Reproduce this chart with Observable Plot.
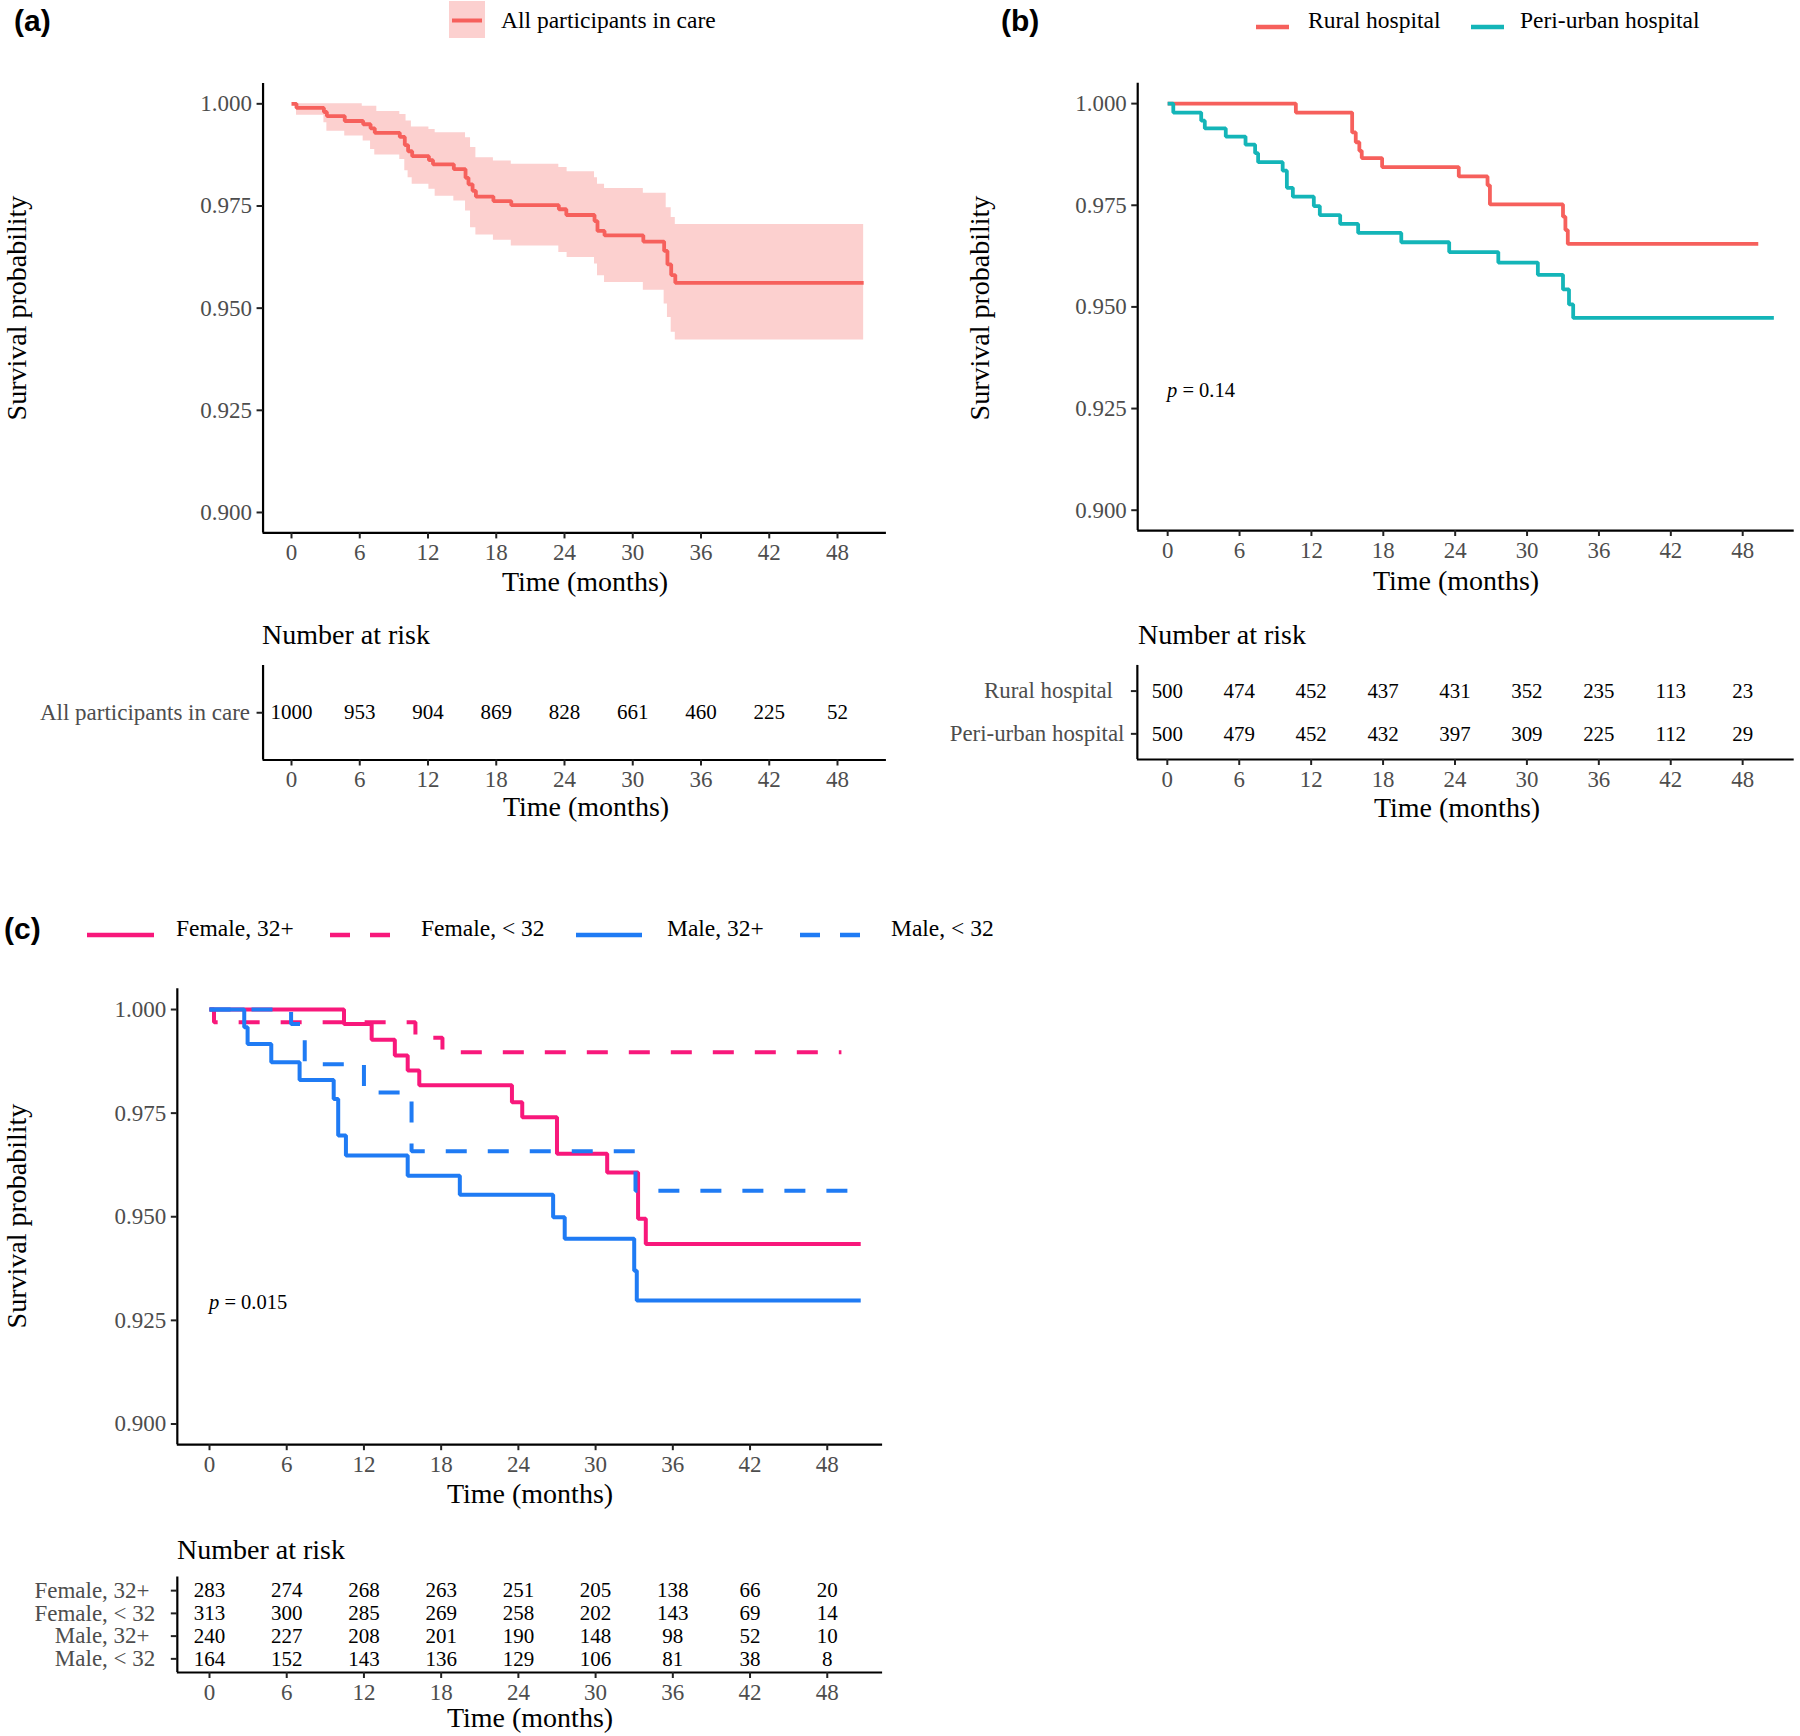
<!DOCTYPE html>
<html><head><meta charset="utf-8">
<script src="https://cdn.jsdelivr.net/npm/d3@7"></script>
<script src="https://cdn.jsdelivr.net/npm/@observablehq/plot@0.6"></script>
<style>
html,body{margin:0;padding:0;background:#fff;}
#page{position:relative;width:1800px;height:1736px;overflow:hidden;background:#fff;font-family:"Liberation Serif","Times New Roman",serif;color:#000;}
.abs{position:absolute;white-space:nowrap;line-height:1;}
.holder{position:absolute;}
.holder svg{overflow:visible;}
</style></head><body><div id="page"></div>
<script>
// ---------------- data ----------------
const monthTicks = [0, 6, 12, 18, 24, 30, 36, 42, 48];
const survTicks = [0.900, 0.925, 0.950, 0.975, 1.000];
const xDomain = [-2.5, 52.3];
const yDomain = [0.895, 1.005];

// (a) all participants
const allTime = [0, 0.44, 2.85, 3.11, 4.68, 6.30, 6.95, 7.32, 9.52, 9.96, 10.25, 10.61, 12.08, 12.44, 14.27, 15.30, 15.56, 15.92, 16.21, 17.75, 19.32, 23.50, 24.16, 26.64, 26.90, 27.52, 30.93, 32.76, 33.05, 33.38, 33.74, 50.3];
const allSurv = [1.000, 0.9990, 0.9980, 0.9970, 0.9958, 0.9950, 0.9940, 0.9929, 0.9919, 0.9899, 0.9884, 0.9872, 0.9862, 0.9852, 0.9840, 0.9819, 0.9803, 0.9787, 0.9773, 0.9762, 0.9752, 0.9742, 0.9728, 0.9713, 0.9689, 0.9678, 0.9663, 0.9640, 0.9607, 0.9581, 0.9562, 0.9562];
const allUpperTime = [0, 6.22, 7.5, 9.52, 10.07, 10.54, 12.08, 12.63, 15.30, 15.74, 16.21, 17.75, 19.32, 23.50, 24.23, 26.64, 26.90, 27.52, 30.93, 32.94, 33.38, 33.74, 50.3];
const allUpper = [1.000, 0.9994, 0.9981, 0.9974, 0.9958, 0.9943, 0.9937, 0.9929, 0.9917, 0.9893, 0.9868, 0.9860, 0.9852, 0.9844, 0.9834, 0.9819, 0.9803, 0.9793, 0.9781, 0.9746, 0.9722, 0.9705, 0.9705];
const allLowerTime = [0, 0.44, 2.85, 3.11, 4.68, 6.30, 6.95, 7.32, 9.52, 9.96, 10.25, 10.61, 12.08, 12.63, 14.27, 15.30, 15.74, 16.21, 17.75, 19.32, 23.50, 24.23, 26.64, 26.90, 27.52, 30.93, 32.76, 33.05, 33.38, 33.74, 50.3];
const allLower = [1.000, 0.9972, 0.9954, 0.9933, 0.9921, 0.9909, 0.9888, 0.9875, 0.9864, 0.9836, 0.9819, 0.9803, 0.9791, 0.9774, 0.9762, 0.9738, 0.9697, 0.9679, 0.9666, 0.9652, 0.9636, 0.9624, 0.9608, 0.9579, 0.9563, 0.9544, 0.9510, 0.9477, 0.9441, 0.9422, 0.9422];

// (b) hospitals
const ruralTime = [0, 10.7, 15.4, 15.7, 16.0, 16.2, 17.9, 24.3, 26.7, 26.9, 33.0, 33.2, 33.4, 49.3];
const ruralSurv = [1.000, 0.9978, 0.9929, 0.9905, 0.9884, 0.9866, 0.9844, 0.9821, 0.9799, 0.9752, 0.9722, 0.9689, 0.9655, 0.9655];
const periTime = [0, 0.47, 2.8, 3.1, 4.85, 6.5, 7.3, 7.55, 9.6, 9.95, 10.45, 12.2, 12.7, 14.4, 15.9, 19.5, 23.5, 27.6, 30.9, 33.0, 33.5, 33.85, 50.6];
const periSurv = [1.000, 0.9978, 0.9958, 0.9939, 0.9919, 0.9899, 0.9878, 0.9856, 0.9835, 0.9793, 0.9771, 0.9748, 0.9726, 0.9704, 0.9682, 0.9659, 0.9635, 0.9609, 0.9579, 0.9543, 0.9506, 0.9473, 0.9473];

// (c) sex x age
const f32pTime = [0, 10.45, 12.6, 14.4, 15.4, 16.3, 23.5, 24.3, 27.0, 30.9, 33.3, 33.9, 50.6];
const f32pSurv = [1.000, 0.9965, 0.9927, 0.9889, 0.9853, 0.9817, 0.9776, 0.9740, 0.9652, 0.9607, 0.9495, 0.9434, 0.9434];
const fl32Time = [0, 0.35, 16.0, 18.1, 49.1];
const fl32Surv = [1.000, 0.9969, 0.9932, 0.9897, 0.9897];
const m32pTime = [0, 2.7, 2.96, 4.8, 7.0, 9.65, 10.0, 10.6, 15.4, 19.45, 26.7, 27.6, 33.0, 33.2, 50.6];
const m32pSurv = [1.000, 0.9957, 0.9917, 0.9873, 0.9830, 0.9784, 0.9696, 0.9648, 0.9599, 0.9553, 0.9499, 0.9447, 0.9370, 0.9298, 0.9298];
const ml32Time = [0, 6.34, 7.4, 12.0, 15.7, 33.1, 50.2];
const ml32Surv = [1.000, 0.9965, 0.9868, 0.9800, 0.9658, 0.9563, 0.9563];

// number at risk
const riskAllLabels = ["All participants in care"];
const riskAll = [[1000, 953, 904, 869, 828, 661, 460, 225, 52]];
const riskHospLabels = ["Rural hospital\u00a0\u00a0", "Peri-urban hospital"];
const riskHosp = [
  [500, 474, 452, 437, 431, 352, 235, 113, 23],
  [500, 479, 452, 432, 397, 309, 225, 112, 29]
];
const riskGroupLabels = ["Female, 32+\u00a0", "Female, < 32", "Male, 32+\u00a0", "Male, < 32"];
const riskGroup = [
  [283, 274, 268, 263, 251, 205, 138, 66, 20],
  [313, 300, 285, 269, 258, 202, 143, 69, 14],
  [240, 227, 208, 201, 190, 148, 98, 52, 10],
  [164, 152, 143, 136, 129, 106, 81, 38, 8]
];

// colours
const RED = "#F6605C", TEAL = "#14B5B8", PINK = "#F8187B", BLUE = "#1F7BF4", BAND = "#FCD0CF";

// ---------------- helpers ----------------
const page = document.getElementById("page");
const rowsOf = (ts, vs) => ts.map((t, i) => ({t, s: vs[i]}));
function stepAt(ts, vs, t) { let v = vs[0]; for (let i = 0; i < ts.length; i++) if (ts[i] <= t) v = vs[i]; return v; }
function bandRows(upT, up, loT, lo) {
  const ts = Array.from(new Set([...upT, ...loT])).sort((a, b) => a - b);
  return ts.map(t => ({t, hi: stepAt(upT, up, t), lo: stepAt(loT, lo, t)}));
}
function place(node, x, y) {
  const d = document.createElement("div");
  d.className = "holder"; d.style.left = x + "px"; d.style.top = y + "px";
  d.appendChild(node); page.appendChild(d);
}
function text(str, x, y, o = {}) {
  const s = document.createElement("div");
  s.className = "abs";
  s.innerHTML = str;
  s.style.fontSize = (o.size || 23) + "px";
  s.style.fontFamily = o.family || '"Liberation Serif", serif';
  if (o.weight) s.style.fontWeight = o.weight;
  s.style.color = o.color || "#000";
  s.style.left = x + "px"; s.style.top = y + "px";
  const tx = o.anchor === "middle" ? "-50%" : o.anchor === "end" ? "-100%" : "0";
  s.style.transform = `translate(${tx},-50%)`;
  page.appendChild(s);
}
function vtitle(str, cx, cy) {
  const s = document.createElement("div");
  s.className = "abs";
  s.textContent = str;
  s.style.fontSize = "28px";
  s.style.width = "400px"; s.style.textAlign = "center";
  s.style.left = (cx - 200) + "px"; s.style.top = (cy - 16) + "px";
  s.style.height = "32px"; s.style.lineHeight = "32px";
  s.style.transform = "rotate(-90deg)";
  page.appendChild(s);
}
function svgSwatch(inner, x, y, w, h) {
  const d = document.createElement("div");
  d.className = "holder"; d.style.left = x + "px"; d.style.top = y + "px";
  d.innerHTML = `<svg width="${w}" height="${h}" xmlns="http://www.w3.org/2000/svg">${inner}</svg>`;
  page.appendChild(d);
}
const plotStyle = {fontFamily: '"Liberation Serif", serif', fontSize: "23px", color: "#4D4D4D", background: "transparent", overflow: "visible"};

function survPlot(c) {
  const marks = [];
  if (c.band) marks.push(Plot.areaY(c.band, {x: "t", y1: "lo", y2: "hi", curve: "step-after", fill: BAND}));
  for (const s of c.series) marks.push(Plot.line(s.rows, {x: "t", y: "s", curve: "step-after", stroke: s.color, strokeWidth: s.width, strokeDasharray: s.dash || null, strokeLinejoin: "miter", strokeLinecap: "butt"}));
  marks.push(Plot.ruleX([xDomain[0]], {stroke: "#000", strokeWidth: 2.2}));
  marks.push(Plot.ruleY([yDomain[0]], {stroke: "#000", strokeWidth: 2.2}));
  marks.push(Plot.axisY(survTicks, {tickFormat: d3.format(".3f"), tickSize: 6, tickPadding: 5, stroke: "#222", strokeWidth: 2, label: null}));
  marks.push(Plot.axisX(monthTicks, {tickSize: 6, tickPadding: 5, stroke: "#222", strokeWidth: 2, label: null}));
  return Plot.plot({
    width: c.W, height: c.H,
    marginLeft: c.L - c.sx, marginTop: c.T - c.sy, marginRight: c.sx + c.W - c.R, marginBottom: c.sy + c.H - c.B,
    x: {domain: xDomain, label: null}, y: {domain: yDomain, label: null},
    style: plotStyle, marks
  });
}
function riskPlot(c) {
  const n = c.labels.length;
  const rows = [];
  c.values.forEach((vals, i) => vals.forEach((v, j) => rows.push({t: monthTicks[j], row: i + 1, n: v})));
  return Plot.plot({
    width: c.W, height: c.H,
    marginLeft: c.L - c.sx, marginTop: c.T - c.sy, marginRight: c.sx + c.W - c.R, marginBottom: c.sy + c.H - c.B,
    x: {domain: xDomain, label: null}, y: {domain: [0.4, n + 0.6], reverse: true, label: null},
    style: plotStyle,
    marks: [
      Plot.text(rows, {x: "t", y: "row", text: d => String(d.n), fill: "#000", fontSize: 21}),
      Plot.ruleX([xDomain[0]], {stroke: "#000", strokeWidth: 2.2}),
      Plot.ruleY([n + 0.6], {stroke: "#000", strokeWidth: 2.2}),
      Plot.axisY(d3.range(1, n + 1), {tickFormat: i => c.labels[i - 1], tickSize: 6, tickPadding: c.pad, stroke: "#222", strokeWidth: 2, label: null}),
      Plot.axisX(monthTicks, {tickSize: 6, tickPadding: 5, stroke: "#222", strokeWidth: 2, label: null})
    ]
  });
}
// frame right edges from the shared time scale (0 month at x0, k px per month)
const rightEdge = (x0, k) => x0 + xDomain[1] * k;
const leftEdge = (x0, k) => x0 + xDomain[0] * k;

// ---------------- panel (a) ----------------
const aL = leftEdge(291, 11.375), aR = rightEdge(291, 11.375);
text("(a)", 14, 21, {size: 30, weight: "bold", family: '"Liberation Sans", Arial, sans-serif'});
svgSwatch(`<rect x="0" y="0" width="36" height="37" fill="${BAND}"/><line x1="3" x2="33" y1="19.5" y2="19.5" stroke="${RED}" stroke-width="4"/>`, 449, 1, 36, 37);
text("All participants in care", 501, 21, {size: 23.5});
place(survPlot({sx: 100, sy: 60, W: 810, H: 520, L: aL, T: 82.9, R: aR, B: 532.4,
  band: bandRows(allUpperTime, allUpper, allLowerTime, allLower),
  series: [{rows: rowsOf(allTime, allSurv), color: RED, width: 3.8}]}), 100, 60);
vtitle("Survival probability", 17, 308);
text("Time (months)", 585, 582, {size: 28, anchor: "middle"});
text("Number at risk", 262, 635, {size: 28});
place(riskPlot({sx: 0, sy: 650, W: 910, H: 150, L: aL, T: 665, R: aR, B: 759.5, labels: riskAllLabels, values: riskAll, pad: 7}), 0, 650);
text("Time (months)", 586, 807, {size: 28, anchor: "middle"});

// ---------------- panel (b) ----------------
const bL = leftEdge(1168, 12.04), bR = rightEdge(1168, 12.04);
text("(b)", 1001, 21, {size: 30, weight: "bold", family: '"Liberation Sans", Arial, sans-serif'});
svgSwatch(`<line x1="0" x2="33" y1="4" y2="4" stroke="${RED}" stroke-width="4.5"/>`, 1256, 17, 33, 8);
text("Rural hospital", 1308, 21, {size: 23.5});
svgSwatch(`<line x1="0" x2="33" y1="4" y2="4" stroke="${TEAL}" stroke-width="4.5"/>`, 1471, 17, 33, 8);
text("Peri-urban hospital", 1520, 21, {size: 23.5});
place(survPlot({sx: 1000, sy: 60, W: 804, H: 520, L: bL, T: 82.9, R: bR, B: 532.4,
  series: [{rows: rowsOf(ruralTime, ruralSurv), color: RED, width: 3.8}, {rows: rowsOf(periTime, periSurv), color: TEAL, width: 3.8}]}), 1000, 60);
vtitle("Survival probability", 980, 308);
text('<i>p</i> = 0.14', 1167, 390, {size: 20.5});
text("Time (months)", 1456, 581, {size: 28, anchor: "middle"});
text("Number at risk", 1138, 635, {size: 28});
place(riskPlot({sx: 900, sy: 650, W: 904, H: 150, L: bL, T: 665, R: bR, B: 759.5, labels: riskHospLabels, values: riskHosp, pad: 7}), 900, 650);
text("Time (months)", 1457, 808, {size: 28, anchor: "middle"});

// ---------------- panel (c) ----------------
const cL = leftEdge(209, 12.87), cR = rightEdge(209, 12.87);
text("(c)", 4, 929, {size: 30, weight: "bold", family: '"Liberation Sans", Arial, sans-serif'});
svgSwatch(`<line x1="0" x2="67" y1="4" y2="4" stroke="${PINK}" stroke-width="4.5"/>`, 87, 925, 67, 8);
text("Female, 32+", 176, 929, {size: 23.5});
svgSwatch(`<line x1="0" x2="62" y1="4" y2="4" stroke="${PINK}" stroke-width="4.5" stroke-dasharray="20,20"/>`, 330, 925, 62, 8);
text("Female, &lt; 32", 421, 929, {size: 23.5});
svgSwatch(`<line x1="0" x2="66" y1="4" y2="4" stroke="${BLUE}" stroke-width="4.5"/>`, 576, 925, 66, 8);
text("Male, 32+", 667, 929, {size: 23.5});
svgSwatch(`<line x1="0" x2="60" y1="4" y2="4" stroke="${BLUE}" stroke-width="4.5" stroke-dasharray="20,20"/>`, 800, 925, 60, 8);
text("Male, &lt; 32", 891, 929, {size: 23.5});
place(survPlot({sx: 60, sy: 960, W: 850, H: 520, L: cL, T: 988.3, R: cR, B: 1444.2,
  series: [
    {rows: rowsOf(f32pTime, f32pSurv), color: PINK, width: 4},
    {rows: rowsOf(fl32Time, fl32Surv), color: PINK, width: 4, dash: "21,21"},
    {rows: rowsOf(m32pTime, m32pSurv), color: BLUE, width: 4},
    {rows: rowsOf(ml32Time, ml32Surv), color: BLUE, width: 4, dash: "21,21"}
  ]}), 60, 960);
vtitle("Survival probability", 17, 1216);
text('<i>p</i> = 0.015', 209, 1302, {size: 20.5});
text("Time (months)", 530, 1494, {size: 28, anchor: "middle"});
text("Number at risk", 177, 1550, {size: 28});
place(riskPlot({sx: 0, sy: 1565, W: 910, H: 150, L: cL, T: 1576.5, R: cR, B: 1672, labels: riskGroupLabels, values: riskGroup, pad: 16}), 0, 1565);
text("Time (months)", 530, 1718, {size: 28, anchor: "middle"});
</script></body></html>
